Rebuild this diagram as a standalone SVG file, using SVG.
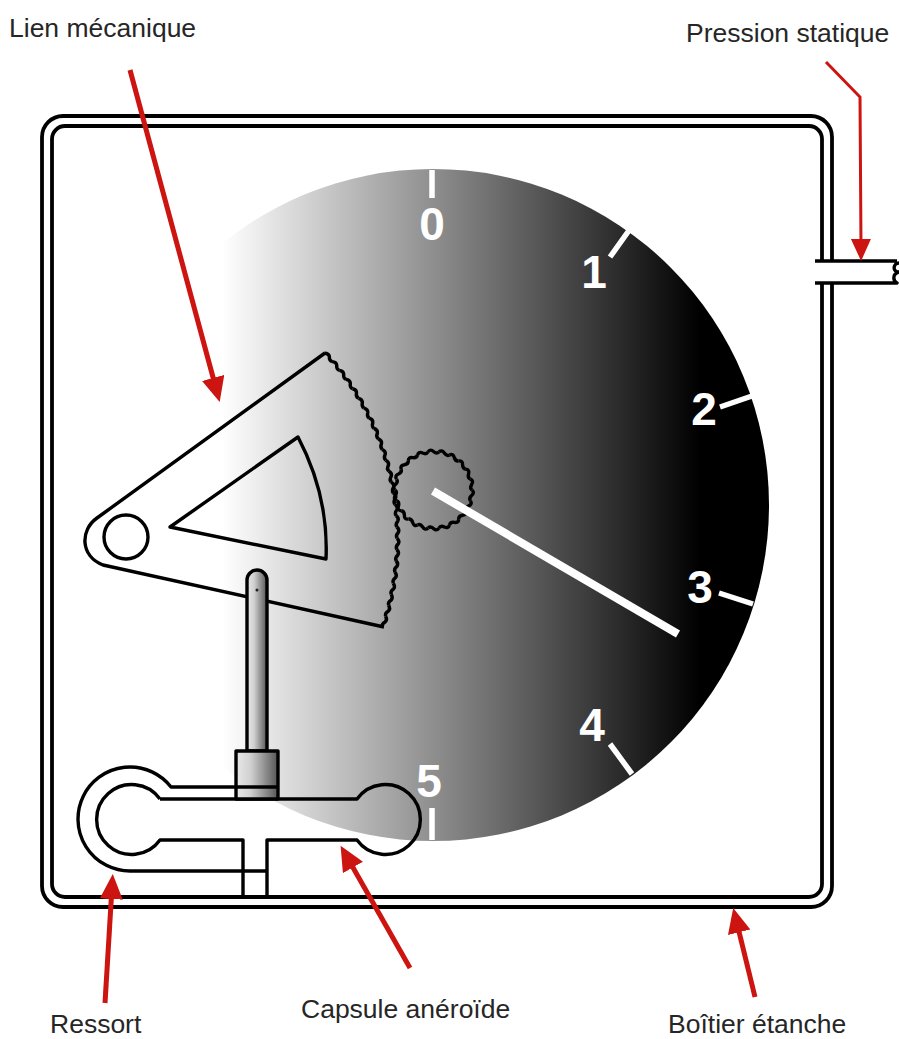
<svg xmlns="http://www.w3.org/2000/svg" width="899" height="1039" viewBox="0 0 899 1039">
<style>
.k{fill:none;stroke:#000;stroke-width:3.4;stroke-linejoin:round}
.c{fill:none;stroke:#000;stroke-width:3.8}
.t{stroke:#fff;stroke-width:5.5;fill:none}
.n{font-family:"Liberation Sans",Arial,sans-serif;font-weight:bold;font-size:46px;fill:#fff;text-anchor:middle}
.l{font-family:"Liberation Sans",Arial,sans-serif;font-size:26.5px;fill:#262626}
.a{fill:none;stroke:#cc1410;stroke-width:5}
</style>
<defs>
<linearGradient id="dial" gradientUnits="userSpaceOnUse" x1="222" y1="0" x2="700" y2="0"><stop offset="0" stop-color="#fff"/><stop offset="1" stop-color="#000"/></linearGradient>
<linearGradient id="pin" x1="0" y1="0" x2="1" y2="0"><stop offset="0" stop-color="#e8e8e8"/><stop offset=".35" stop-color="#d0d0d0"/><stop offset="1" stop-color="#555"/></linearGradient>
<marker id="big" markerUnits="userSpaceOnUse" markerWidth="26" markerHeight="24" refX="12" refY="11.5" orient="auto"><path d="M0 0L25 11.5L0 23z" fill="#cc1410"/></marker>
<marker id="small" markerUnits="userSpaceOnUse" markerWidth="24" markerHeight="22" refX="8" refY="10" orient="auto"><path d="M0 0L22 10L0 20z" fill="#cc1410"/></marker>
<path id="tooth" class="k" d="M397 538q3 2.8 1.3 5.6q-3 2.8 -1.5 5.7"/>
<path id="gt" class="k" d="M472 490q3 2.7 -0.4 5.5q-3 2.7 -1.2 5.3"/>
</defs>
<rect width="899" height="1039" fill="#fff"/>
<g id="dial-face">
<circle cx="433" cy="505" r="336" fill="url(#dial)"/>
<path class="t" d="M432 170V198M630 229L610 257M752 396L720 407M753 604L719 593M632 774L610 744M432 840V808"/>
<text class="n" x="432" y="240">0</text>
<text class="n" x="594" y="288">1</text>
<text class="n" x="704" y="425">2</text>
<text class="n" x="700" y="603">3</text>
<text class="n" x="592" y="741">4</text>
<text class="n" x="429" y="797">5</text>
</g>
<g id="case">
<rect class="c" x="42" y="116" width="790" height="791" rx="21"/>
<rect class="c" x="52" y="126" width="770" height="771" rx="13"/>
<rect x="815" y="262" width="84" height="20" fill="#fff"/>
<path class="k" d="M815 261H897M899 263C893 263 892 272 899 272C892 274 893 281 897 283H815"/>
</g>
<g id="lever">
<path class="k" d="M325 353L97 518C80 530 80 556 103 565L384 627"/>
<circle class="k" cx="126" cy="537" r="22"/>
<path class="k" d="M170 527L298 437C318 475 328 515 326 559Z"/>
<use href="#tooth" transform="rotate(-42.8 125 538)"/>
<use href="#tooth" transform="rotate(-40.42 125 538)"/>
<use href="#tooth" transform="rotate(-38.04 125 538)"/>
<use href="#tooth" transform="rotate(-35.66 125 538)"/>
<use href="#tooth" transform="rotate(-33.28 125 538)"/>
<use href="#tooth" transform="rotate(-30.9 125 538)"/>
<use href="#tooth" transform="rotate(-28.52 125 538)"/>
<use href="#tooth" transform="rotate(-26.14 125 538)"/>
<use href="#tooth" transform="rotate(-23.76 125 538)"/>
<use href="#tooth" transform="rotate(-21.38 125 538)"/>
<use href="#tooth" transform="rotate(-19 125 538)"/>
<use href="#tooth" transform="rotate(-16.62 125 538)"/>
<use href="#tooth" transform="rotate(-14.24 125 538)"/>
<use href="#tooth" transform="rotate(-11.86 125 538)"/>
<use href="#tooth" transform="rotate(-9.48 125 538)"/>
<use href="#tooth" transform="rotate(-7.1 125 538)"/>
<use href="#tooth" transform="rotate(-4.72 125 538)"/>
<use href="#tooth" transform="rotate(-2.34 125 538)"/>
<use href="#tooth" transform="rotate(0.04 125 538)"/>
<use href="#tooth" transform="rotate(2.42 125 538)"/>
<use href="#tooth" transform="rotate(4.8 125 538)"/>
<use href="#tooth" transform="rotate(7.18 125 538)"/>
<use href="#tooth" transform="rotate(9.56 125 538)"/>
<use href="#tooth" transform="rotate(11.94 125 538)"/>
<use href="#tooth" transform="rotate(14.32 125 538)"/>
<use href="#tooth" transform="rotate(16.7 125 538)"/>
</g>
<g id="gear">
<use href="#gt" transform="rotate(0 433.5 490)"/>
<use href="#gt" transform="rotate(16.36 433.5 490)"/>
<use href="#gt" transform="rotate(32.73 433.5 490)"/>
<use href="#gt" transform="rotate(49.09 433.5 490)"/>
<use href="#gt" transform="rotate(65.45 433.5 490)"/>
<use href="#gt" transform="rotate(81.82 433.5 490)"/>
<use href="#gt" transform="rotate(98.18 433.5 490)"/>
<use href="#gt" transform="rotate(114.55 433.5 490)"/>
<use href="#gt" transform="rotate(130.91 433.5 490)"/>
<use href="#gt" transform="rotate(147.27 433.5 490)"/>
<use href="#gt" transform="rotate(163.64 433.5 490)"/>
<use href="#gt" transform="rotate(180 433.5 490)"/>
<use href="#gt" transform="rotate(196.36 433.5 490)"/>
<use href="#gt" transform="rotate(212.73 433.5 490)"/>
<use href="#gt" transform="rotate(229.09 433.5 490)"/>
<use href="#gt" transform="rotate(245.45 433.5 490)"/>
<use href="#gt" transform="rotate(261.82 433.5 490)"/>
<use href="#gt" transform="rotate(278.18 433.5 490)"/>
<use href="#gt" transform="rotate(294.55 433.5 490)"/>
<use href="#gt" transform="rotate(310.91 433.5 490)"/>
<use href="#gt" transform="rotate(327.27 433.5 490)"/>
<use href="#gt" transform="rotate(343.64 433.5 490)"/>
</g>
<path id="needle" d="M433 491L678 634" stroke="#fff" stroke-width="8" fill="none"/>
<g id="capsule">
<path class="k" d="M160 799H357A35 35 0 1 1 357 840H267V897M243 897V840H160A35 35 0 1 1 160 799"/>
<path class="k" d="M236 787H171A52 52 0 1 0 130 871H267"/>
</g>
<g id="rod">
<path class="k" style="fill:url(#pin)" d="M247 751V580A10 10 0 0 1 267 580V751Z"/>
<circle cx="257" cy="590" r="1.5" fill="#222"/>
<rect class="k" style="fill:url(#pin)" x="236" y="751" width="42" height="48"/>
<path class="k" d="M236 787H278"/>
</g>
<g id="connectors">
<path class="a" d="M130 70L216.3 389.5" marker-end="url(#big)"/>
<path class="a" style="stroke-width:3" d="M826 62L860 97L861 247" marker-end="url(#small)"/>
<path class="a" d="M105 1003L112 887" marker-end="url(#big)"/>
<path class="a" d="M410 968L347 857" marker-end="url(#big)"/>
<path class="a" d="M755 997L736.3 920.6" marker-end="url(#big)"/>
</g>
<g id="labels">
<text class="l" x="9" y="37">Lien mécanique</text>
<text class="l" x="686" y="42">Pression statique</text>
<text class="l" x="50" y="1033">Ressort</text>
<text class="l" x="301" y="1018">Capsule anéroïde</text>
<text class="l" x="668" y="1033">Boîtier étanche</text>
</g>
</svg>
